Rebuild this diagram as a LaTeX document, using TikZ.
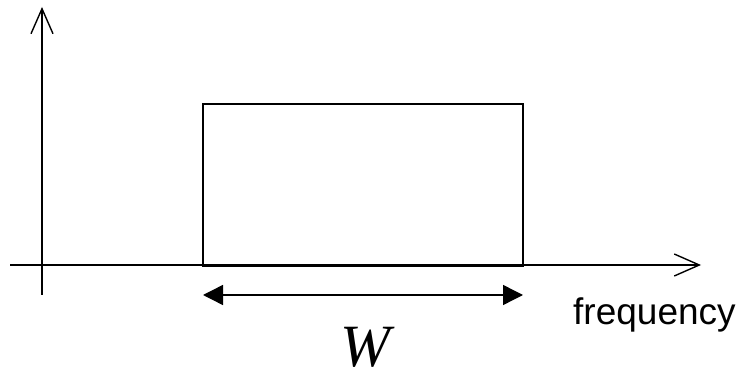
\documentclass[tikz,border=0pt]{standalone}
\usepackage{fontspec}
\setmainfont{Liberation Serif}
\newfontfamily\arialfont{Liberation Sans}
\usetikzlibrary{arrows.meta}
\tikzset{
  axis/.style={line width=1.4pt, -{Straight Barb[length=25pt,width=22pt,line width=1.4pt]}},
  band/.style={draw, line width=1.4pt},
  span/.style={line width=1.4pt, {Triangle[length=20pt,width=20pt]}-{Triangle[length=20pt,width=20pt]}},
}
\begin{document}
\begin{tikzpicture}[x=1pt,y=-1pt]
\useasboundingbox (0,0) rectangle (737,371);
\coordinate (yb) at (42,295);
\coordinate (yt) at (42,7);
\coordinate (xl) at (10,265);
\coordinate (xr) at (701,265);
\draw[axis] (yb) -- (yt);
\draw[axis] (xl) -- (xr);
\draw[band] (203,266) rectangle (523,104);
\draw[line width=2.2pt] (203,266) -- (523,266);
\coordinate (wl) at (203,295);
\coordinate (wr) at (523,295);
\draw[span] (wl) -- (wr);
\node[font=\itshape\fontsize{60}{60}\selectfont, anchor=base, inner sep=0pt, text depth=0pt] (W) at (365,367) {W};
\node[font=\arialfont\fontsize{37}{37}\selectfont, anchor=base west, inner sep=0pt] (freq) at (573,325) {frequency};
\end{tikzpicture}
\end{document}
